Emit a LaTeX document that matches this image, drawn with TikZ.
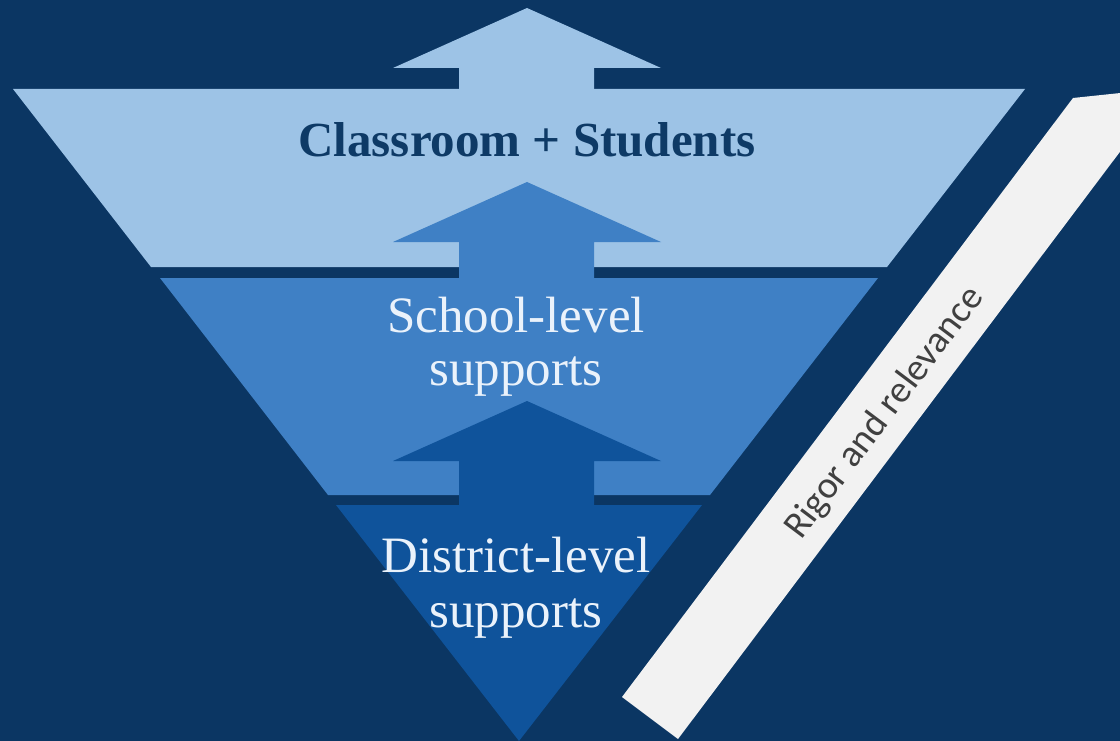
\documentclass[tikz,border=0pt]{standalone}
\usepackage{fontspec}
\setmainfont{Liberation Serif}
\newfontfamily\bandfont{Carlito}
\definecolor{bgnavy}{HTML}{0B3663}
\definecolor{tierA}{HTML}{9DC3E6}
\definecolor{tierB}{HTML}{3F80C5}
\definecolor{tierC}{HTML}{0F539B}
\definecolor{bandgray}{HTML}{F2F2F2}
\definecolor{bandtext}{HTML}{404040}
\definecolor{titletext}{HTML}{0E3A66}
\definecolor{lighttext}{HTML}{EAF2FB}
\tikzset{
  tierlabel/.style={anchor=base, inner sep=0pt, text=lighttext, font=\fontsize{51}{53}\selectfont},
  toplabel/.style={anchor=base, inner sep=0pt, text=titletext, font=\bfseries\fontsize{49}{53}\selectfont},
  bandlabel/.style={inner sep=0pt, text=bandtext, font=\bandfont\fontsize{38}{42}\selectfont, rotate=53}
}
\begin{document}
\begin{tikzpicture}[x=1pt,y=-1pt]
\useasboundingbox (0,0) rectangle (1120,741);
\fill[bgnavy] (0,0) rectangle (1120,741);
\begin{scope}
\clip (0,0) rectangle (1120,741);
% tiers of the inverted triangle
\fill[tierA] (13,89) -- (1025,89) -- (887,267) -- (151,267) -- cycle;
\fill[tierB] (160,278) -- (878,278) -- (710,495) -- (328,495) -- cycle;
\fill[tierC] (336,505) -- (702,505) -- (519,741) -- cycle;
% arrows
\fill[tierA] (527,8) -- (661,68) -- (594,68) -- (594,95) -- (459,95) -- (459,68) -- (393,68) -- cycle;
\fill[tierB] (527,182) -- (661,242) -- (594,242) -- (594,284) -- (459,284) -- (459,242) -- (393,242) -- cycle;
\fill[tierC] (527,401) -- (661,461) -- (594,461) -- (594,511) -- (459,511) -- (459,461) -- (393,461) -- cycle;
% band
\fill[bandgray] (622,697) -- (1073,98) -- (1168,88) -- (678,739) -- cycle;
\end{scope}
\node[toplabel] (classroom) at (527,157) {Classroom + Students};
\node[tierlabel] (school1) at (516,332) {School-level};
\node[tierlabel] (school2) at (516,385) {supports};
\node[tierlabel] (district1) at (516,572) {District-level};
\node[tierlabel] (district2) at (516,627) {supports};
\node[bandlabel] (rigor) at (885,413) {Rigor and relevance};
\end{tikzpicture}
\end{document}
